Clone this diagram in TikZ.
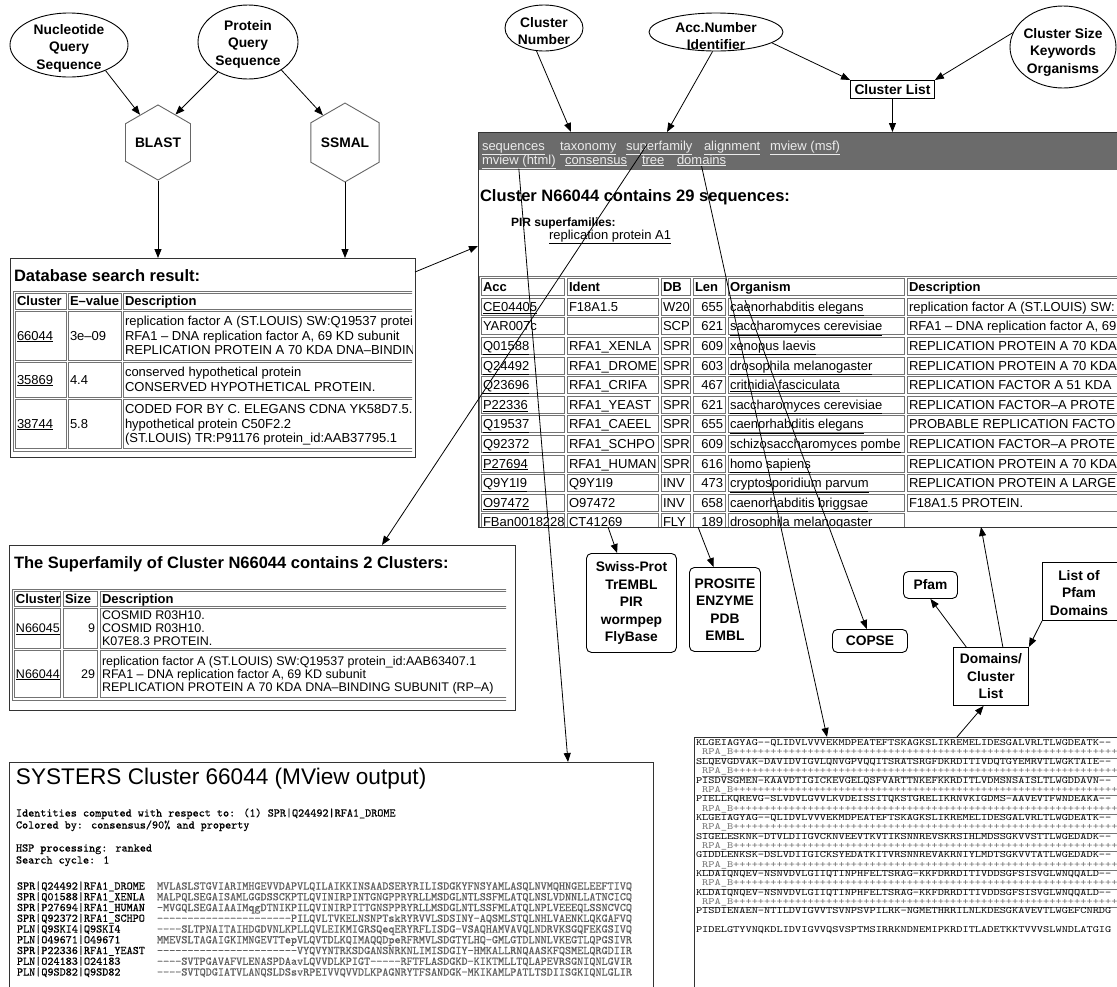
\documentclass[tikz,border=0pt]{standalone}
\usepackage{fontspec}
\setmainfont{Liberation Sans}
\newfontfamily\seqfont{lmmono10-regular.otf}[Ligatures=TeXOff,FakeBold=0.6]
\newfontfamily\alnfont{lmmono10-regular.otf}[Ligatures=TeXOff,FakeStretch=1.23]
\usetikzlibrary{shapes.geometric,arrows.meta,calc}

\newcounter{nd}
% text set on its baseline (left or right end), every node numbered
\newcommand{\txl}[3][]{\stepcounter{nd}\node[tx,anchor=base west,#1] (t\arabic{nd}) at (#2) {#3};}
\newcommand{\txr}[3][]{\stepcounter{nd}\node[tx,anchor=base east,#1] (t\arabic{nd}) at (#2) {#3};}
\newcommand{\lnk}[1]{\underline{#1}}
\newcommand{\cellr}[4]{\draw[cellline] (#1,#2) rectangle (#3,#4);}
\newcommand{\headfont}{\fontsize{16.5}{19}\selectfont\bfseries}
\newcommand{\thfont}{\fontsize{13}{14}\selectfont\bfseries}
\newcommand{\sffont}{\fontsize{12.5}{14}\selectfont}
\newcommand{\lblfont}{\fontsize{13.8}{17.5}\selectfont\bfseries}
\newcommand{\plusrun}{++++++++++++++++++++++++++++++++++++++++++++++++++++++++++++++}

% one row of the cluster member table, #1 = centre of the row
\newcommand{\crow}[7]{%
  \cellr{481}{#1-8.5}{564}{#1+8.5}%
  \cellr{567}{#1-8.5}{658}{#1+8.5}%
  \cellr{661}{#1-8.5}{690}{#1+8.5}%
  \cellr{693}{#1-8.5}{725}{#1+8.5}%
  \cellr{728}{#1-8.5}{904}{#1+8.5}%
  \cellr{907}{#1-8.5}{1140}{#1+8.5}%
  \txl{483,#1+4.6}{#2}%
  \txl{569,#1+4.6}{#3}%
  \txl{663,#1+4.6}{#4}%
  \txr{723,#1+4.6}{#5}%
  \txl{730,#1+4.6}{#6}%
  \txl{909,#1+4.6}{#7}%
}
% MView alignment line: name and sequence
\newcommand{\mvrow}[3]{\txl[seqtx]{17,#1}{#2}\txl[seqtx,text=black!62]{157,#1}{#3}}
% domain alignment lines
\newcommand{\alrow}[2]{\txl[alntx]{696,#1}{#2}}
\newcommand{\rparow}[1]{\txl[alntx,text=black!55]{696,#1}{\hphantom{R}\lnk{RPA\_B\plusrun}}}

\begin{document}
\begin{tikzpicture}[x=1pt,y=-1pt,
  tx/.style={inner sep=0pt,outer sep=0pt,font=\fontsize{13}{14}\selectfont},
  lbl/.style={inner sep=0pt,font=\lblfont,align=center},
  oval/.style={ellipse,draw,line width=0.9pt,inner sep=0pt},
  hexa/.style={regular polygon,regular polygon sides=6,shape border rotate=30,draw=black!60,line width=0.9pt,minimum size=71pt,inner sep=0pt,font=\lblfont},
  rbox/.style={draw,line width=0.9pt,rounded corners=5pt,inner sep=0pt,font=\lblfont,align=center},
  sbox/.style={draw,line width=0.9pt,inner sep=0pt,font=\lblfont,align=center},
  panel/.style={draw=black!80,line width=0.9pt,inner sep=0pt,outer sep=0pt},
  cellline/.style={draw=black!55,line width=0.6pt},
  conn/.style={-{Triangle[length=9pt,width=7pt]},line width=0.8pt},
  barlink/.style={tx,font=\fontsize{13}{14}\selectfont,text=black!8},
  seqtx/.style={tx,font=\seqfont\fontsize{11.6}{12}\selectfont},
  alntx/.style={tx,font=\alnfont\fontsize{9.6}{9.6}\selectfont},
]
\useasboundingbox (0,0) rectangle (1117,986);
\fill[white] (0,0) rectangle (1117,986);

% ---------------- query side ----------------
\node[oval,minimum width=118pt,minimum height=64pt] (nuc) at (69,45) {};
\node[lbl] (nucT) at (69,48) {Nucleotide\\Query\\Sequence};
\node[oval,minimum width=100pt,minimum height=74pt] (prot) at (248,42) {};
\node[lbl] (protT) at (248,44) {Protein\\Query\\Sequence};
\node[hexa] (blast) at (158,142.5) {BLAST};
\node[hexa] (ssmal) at (345,142.5) {SSMAL};

% ---------------- database search result ----------------
\node[panel,anchor=north west,minimum width=405pt,minimum height=199pt] (dbbox) at (10,258) {};
\txl[font=\headfont]{14,281}{Database search result:}
\begin{scope}
  \clip (11,259) rectangle (412,456);
  \draw[cellline] (13,291) rectangle (440,451);
  \cellr{15}{293}{66}{309}\cellr{68}{293}{121}{309}\cellr{123}{293}{440}{309}
  \txl[font=\thfont]{17,305.6}{Cluster}
  \txl[font=\thfont]{70,305.6}{E–value}
  \txl[font=\thfont]{125,305.6}{Description}
  \cellr{15}{311}{66}{360}\cellr{68}{311}{121}{360}\cellr{123}{311}{440}{360}
  \txl{17,340.1}{\lnk{66044}}
  \txl{70,340.1}{3e–09}
  \txl{125,325.6}{replication factor A (ST.LOUIS) SW:Q19537 protei}
  \txl{125,340.1}{RFA1 – DNA replication factor A, 69 KD subunit}
  \txl{125,354.6}{REPLICATION PROTEIN A 70 KDA DNA–BINDIN}
  \cellr{15}{362}{66}{397}\cellr{68}{362}{121}{397}\cellr{123}{362}{440}{397}
  \txl{17,384.1}{\lnk{35869}}
  \txl{70,384.1}{4.4}
  \txl{125,376.9}{conserved hypothetical protein}
  \txl{125,391.4}{CONSERVED HYPOTHETICAL PROTEIN.}
  \cellr{15}{399}{66}{448}\cellr{68}{399}{121}{448}\cellr{123}{399}{440}{448}
  \txl{17,428.1}{\lnk{38744}}
  \txl{70,428.1}{5.8}
  \txl{125,413.6}{CODED FOR BY C. ELEGANS CDNA YK58D7.5.}
  \txl{125,428.1}{hypothetical protein C50F2.2}
  \txl{125,442.6}{(ST.LOUIS) TR:P91176 protein\_id:AAB37795.1}
\end{scope}

% ---------------- superfamily page ----------------
\node[panel,anchor=north west,minimum width=506pt,minimum height=165pt] (sfbox) at (9,545) {};
\txl[font=\headfont]{14,568}{The Superfamily of Cluster N66044 contains 2 Clusters:}
\begin{scope}
  \clip (10,546) rectangle (506,709);
  \draw[cellline] (12,589) rectangle (530,700);
  \cellr{14}{591}{60}{606}\cellr{63}{591}{97}{606}\cellr{100}{591}{530}{606}
  \txl[font=\thfont]{16,603}{Cluster}
  \txl[font=\thfont]{65,603}{Size}
  \txl[font=\thfont]{102,603}{Description}
  \cellr{14}{608}{60}{648}\cellr{63}{608}{97}{648}\cellr{100}{608}{530}{648}
  \txl[font=\sffont]{16,632.6}{\lnk{N66045}}
  \txr[font=\sffont]{95,632.6}{9}
  \txl[font=\sffont]{102,619.6}{COSMID R03H10.}
  \txl[font=\sffont]{102,632.6}{COSMID R03H10.}
  \txl[font=\sffont]{102,645.6}{K07E8.3 PROTEIN.}
  \cellr{14}{650}{60}{697}\cellr{63}{650}{97}{697}\cellr{100}{650}{530}{697}
  \txl[font=\sffont]{16,678}{\lnk{N66044}}
  \txr[font=\sffont]{95,678}{29}
  \txl[font=\sffont]{102,665}{replication factor A (ST.LOUIS) SW:Q19537 protein\_id:AAB63407.1}
  \txl[font=\sffont]{102,678}{RFA1 – DNA replication factor A, 69 KD subunit}
  \txl[font=\sffont]{102,691}{REPLICATION PROTEIN A 70 KDA DNA–BINDING SUBUNIT (RP–A)}
\end{scope}

% ---------------- cluster page ----------------
\node[panel,anchor=north west,minimum width=660pt,minimum height=395pt] (page) at (478,132) {};
\fill[black!58] (478.5,132.5) rectangle (1140,170);
\node[barlink,anchor=base west] (seqlink) at (482,150) {\lnk{sequences}};
\node[barlink,anchor=base west] (taxlink) at (560,150) {\lnk{taxonomy}};
\node[barlink,anchor=base west] (suplink) at (626,150) {\lnk{superfamily}};
\node[barlink,anchor=base west] (alilink) at (704,150) {\lnk{alignment}};
\node[barlink,anchor=base west] (msflink) at (770,150) {\lnk{mview (msf)}};
\node[barlink,anchor=base west] (htmllink) at (482,164) {\lnk{mview (html)}};
\node[barlink,anchor=base west] (conslink) at (565,164) {\lnk{consensus}};
\node[barlink,anchor=base west] (treelink) at (642,164) {\lnk{tree}};
\node[barlink,anchor=base west] (domlink) at (677,164) {\lnk{domains}};
\txl[font=\headfont]{480,201}{Cluster N66044 contains 29 sequences:}
\txl[font=\fontsize{12}{13}\selectfont\bfseries]{511,226}{PIR superfamilies:}
\txl{549,239.5}{\lnk{replication protein A1}}
\begin{scope}
  \clip (478.5,132.5) rectangle (1117,526.5);
  \draw[cellline] (479,276.5) rectangle (1140,560);
  \cellr{481}{278.5}{564}{295.5}\cellr{567}{278.5}{658}{295.5}\cellr{661}{278.5}{690}{295.5}
  \cellr{693}{278.5}{725}{295.5}\cellr{728}{278.5}{904}{295.5}\cellr{907}{278.5}{1140}{295.5}
  \txl[font=\thfont]{483,291.6}{Acc}
  \txl[font=\thfont]{569,291.6}{Ident}
  \txl[font=\thfont]{663,291.6}{DB}
  \txl[font=\thfont]{695,291.6}{Len}
  \txl[font=\thfont]{730,291.6}{Organism}
  \txl[font=\thfont]{909,291.6}{Description}
  \crow{306.6}{\lnk{CE04405}}{F18A1.5}{W20}{655}{\lnk{caenorhabditis elegans}}{replication factor A (ST.LOUIS) SW:}
  \crow{326.2}{YAR007c}{}{SCP}{621}{\lnk{saccharomyces cerevisiae}}{RFA1 – DNA replication factor A, 69}
  \crow{345.8}{\lnk{Q01588}}{RFA1\_XENLA}{SPR}{609}{\lnk{xenopus laevis}}{REPLICATION PROTEIN A 70 KDA}
  \crow{365.4}{\lnk{Q24492}}{RFA1\_DROME}{SPR}{603}{\lnk{drosophila melanogaster}}{REPLICATION PROTEIN A 70 KDA}
  \crow{385}{\lnk{Q23696}}{RFA1\_CRIFA}{SPR}{467}{\lnk{crithidia fasciculata}}{REPLICATION FACTOR A 51 KDA}
  \crow{404.6}{\lnk{P22336}}{RFA1\_YEAST}{SPR}{621}{\lnk{saccharomyces cerevisiae}}{REPLICATION FACTOR–A PROTE}
  \crow{424.2}{\lnk{Q19537}}{RFA1\_CAEEL}{SPR}{655}{\lnk{caenorhabditis elegans}}{PROBABLE REPLICATION FACTO}
  \crow{443.8}{\lnk{Q92372}}{RFA1\_SCHPO}{SPR}{609}{\lnk{schizosaccharomyces pombe}}{REPLICATION FACTOR–A PROTE}
  \crow{463.4}{\lnk{P27694}}{RFA1\_HUMAN}{SPR}{616}{\lnk{homo sapiens}}{REPLICATION PROTEIN A 70 KDA}
  \crow{483}{\lnk{Q9Y1I9}}{Q9Y1I9}{INV}{473}{\lnk{cryptosporidium parvum}}{REPLICATION PROTEIN A LARGE}
  \crow{502.6}{\lnk{O97472}}{O97472}{INV}{658}{\lnk{caenorhabditis briggsae}}{F18A1.5 PROTEIN.}
  \cellr{481}{513.7}{564}{530.7}\cellr{567}{513.7}{658}{530.7}\cellr{661}{513.7}{690}{530.7}
  \cellr{693}{513.7}{725}{530.7}\cellr{728}{513.7}{904}{530.7}
  \txl{483,526.8}{\lnk{FBan0018228}}
  \txl{569,526.8}{CT41269}
  \txl{663,526.8}{FLY}
  \txr{723,526.8}{189}
  \txl{730,526.8}{\lnk{drosophila melanogaster}}
\end{scope}

% ---------------- MView output ----------------
\node[panel,anchor=north west,minimum width=644pt,minimum height=240pt] (mvbox) at (9,762) {};
\begin{scope}
  \clip (10,763) rectangle (652,986);
  \txl[font=\fontsize{22.6}{26}\selectfont]{16,784}{SYSTERS Cluster 66044 (MView output)}
  \txl[seqtx]{16,816.5}{Identities computed with respect to: (1) SPR|Q24492|RFA1\_DROME}
  \txl[seqtx]{16,828.5}{Colored by: consensus/90\% and property}
  \txl[seqtx]{16,851.5}{HSP processing: ranked}
  \txl[seqtx]{16,863.5}{Search cycle: 1}
  \mvrow{889.5}{SPR|Q24492|RFA1\_DROME}{MVLASLSTGVIARIMHGEVVDAPVLQILAIKKINSAADSERYRILISDGKYFNSYAMLASQLNVMQHNGELEEFTIVQ}
  \mvrow{900.25}{SPR|Q01588|RFA1\_XENLA}{MALPQLSEGAISAMLGGDSSCKPTLQVINIRPINTGNGPPRYRLLMSDGLNTLSSFMLATQLNSLVDNNLLATNCICQ}
  \mvrow{911}{SPR|P27694|RFA1\_HUMAN}{-MVGQLSEGAIAAIMqgDTNIKPILQVINIRPITTGNSPPRYRLLMSDGLNTLSSFMLATQLNPLVEEEQLSSNCVCQ}
  \mvrow{921.75}{SPR|Q92372|RFA1\_SCHPO}{----------------------PILQVLTVKELNSNPTskRYRVVLSDSINY-AQSMLSTQLNHLVAENKLQKGAFVQ}
  \mvrow{932.5}{PLN|Q9SKI4|Q9SKI4}{----SLTPNAITAIHDGDVNLKPLLQVLEIKMIGRSQeqERYRFLISDG-VSAQHAMVAVQLNDRVKSGQFEKGSIVQ}
  \mvrow{943.25}{PLN|O49671|O49671}{MMEVSLTAGAIGKIMNGEVTTepVLQVTDLKQIMAQQDpeRFRMVLSDGTYLHQ-GMLGTDLNNLVKEGTLQPGSIVR}
  \mvrow{954}{SPR|P22336|RFA1\_YEAST}{-----------------------VYQVYNTRKSDGANSNRKNLIMISDGIY-HMKALLRNQAASKFQSMELQRGDIIR}
  \mvrow{964.75}{PLN|O24183|O24183}{----SVTPGAVAFVLENASPDAavLQVVDLKPIGT-----RFTFLASDGKD-KIKTMLLTQLAPEVRSGNIQNLGVIR}
  \mvrow{975.5}{PLN|Q9SD82|Q9SD82}{----SVTQDGIATVLANQSLDSsvRPEIVVQVVDLKPAGNRYTFSANDGK-MKIKAMLPATLTSDIISGKIQNLGLIR}
\end{scope}

% ---------------- domain alignment ----------------
\node[panel,anchor=north west,minimum width=440pt,minimum height=260pt] (albox) at (694,737) {};
\begin{scope}
  \clip (695,738) rectangle (1117,986);
  \alrow{745.6}{KLGEIAGYAG--QLIDVLVVVEKMDPEATEFTSKAGKSLIKREMELIDESGALVRLTLWGDEATK--}
  \rparow{754.95}
  \alrow{764.3}{SLQEVGDVAK-DAVIDVIGVLQNVGPVQQITSRATSRGFDKRDITIVDQTGYEMRVTLWGKTAIE--}
  \rparow{773.65}
  \alrow{783}{PISDVSGMEN-KAAVDTIGICKEVGELQSFVARTTNKEFKKRDITLVDMSNSAISLTLWGDDAVN--}
  \rparow{792.35}
  \alrow{801.7}{PIELLKQREVG-SLVDVLGVVLKVDEISSITQKSTGRELIKRNVKIGDMS-AAVEVTFWNDEAKA--}
  \rparow{811.05}
  \alrow{820.4}{KLGEIAGYAG--QLIDVLVVVEKMDPEATEFTSKAGKSLIKREMELIDESGALVRLTLWGDEATK--}
  \rparow{829.75}
  \alrow{839.1}{SIGELESKNK-DTVLDIIGVCKNVEEVTKVTIKSNNREVSKRSIHLMDSSGKVVSTTLWGEDADK--}
  \rparow{848.45}
  \alrow{857.8}{GIDDLENKSK-DSLVDIIGICKSYEDATKITVRSNNREVAKRNIYLMDTSGKVVTATLWGEDADK--}
  \rparow{867.15}
  \alrow{876.5}{KLDAIQNQEV-NSNVDVLGIIQTINPHFELTSRAG-KKFDRRDITIVDDSGFSISVGLWNQQALD--}
  \rparow{885.85}
  \alrow{895.2}{KLDAIQNQEV-NSNVDVLGIIQTINPHFELTSRAG-KKFDRRDITIVDDSGFSISVGLWNQQALD--}
  \rparow{904.55}
  \alrow{913.9}{PISDIENAEN-NTILDVIGVVTSVNPSVPILRK-NGMETHRRILNLKDESGKAVEVTLWGEFCNRDG}
  \alrow{932.6}{PIDELGTYVNQKDLIDVIGVVQSVSPTMSIRRKNDNEMIPKRDITLADETKKTVVVSLWNDLATGIG}
\end{scope}

% ---------------- search keys and linked resources ----------------
\node[oval,minimum width=78pt,minimum height=46pt] (cnum) at (544,28) {};
\node[lbl] (cnumT) at (544,31) {Cluster\\Number};
\node[oval,minimum width=134pt,minimum height=38pt] (acc) at (716,32) {};
\node[lbl] (accT) at (716,36) {Acc.Number\\Identifier};
\node[oval,minimum width=106pt,minimum height=82pt] (csize) at (1063,47) {};
\node[lbl] (csizeT) at (1063,52) {Cluster Size\\Keywords\\Organisms};
\node[sbox,anchor=north west,minimum width=84pt,minimum height=18pt] (clist) at (850,80) {Cluster List};

\node[rbox,anchor=north west,minimum width=90pt,minimum height=99pt] (swiss) at (586,553) {Swiss-Prot\\TrEMBL\\PIR\\wormpep\\FlyBase};
\node[rbox,anchor=north west,minimum width=71pt,minimum height=84pt] (prosite) at (689,567) {PROSITE\\ENZYME\\PDB\\EMBL};
\node[rbox,anchor=north west,minimum width=75pt,minimum height=23pt] (copse) at (832,629) {COPSE};
\node[rbox,anchor=north west,minimum width=54pt,minimum height=27pt] (pfam) at (903,571) {Pfam};
\node[sbox,anchor=north west,minimum width=90pt,minimum height=58pt] (lpf) at (1042,562) {};
\node[lbl] (lpfT) at (1079,593) {List of\\Pfam\\Domains};
\node[sbox,anchor=north west,minimum width=75pt,minimum height=58pt] (dcl) at (953,647) {Domains/\\Cluster\\List};

% ---------------- connectors ----------------
\draw[conn] (nuc.-35) -- (blast.123);
\draw[conn] (prot.-135) -- (blast.58);
\draw[conn] (prot.-40) -- (ssmal.129);
\draw[conn] (blast.south) -- (blast.south |- dbbox.north);
\draw[conn] (ssmal.south) -- (ssmal.south |- dbbox.north);
\draw[conn] ($(dbbox.north east)+(0,14)$) -- ($(page.north west)+(0,114)$);
\draw[conn] (acc.-11) -- (clist.north west);
\draw[conn] (csize.164) -- (clist.north east);
\draw[conn] (clist.south) -- (clist.south |- page.north);
\draw[conn] (cnum.-108) -- ($(page.north west)+(93,0)$);
\draw[conn] (acc.-100) -- ($(page.north west)+(189,0)$);
\draw[conn] (htmllink.south) -- ($(mvbox.north west)+(559,0)$);
\draw[conn] ($(suplink.west)+(21,-3)$) -- ($(sfbox.north west)+(373,0)$);
\draw[conn] (domlink.south) -- ($(albox.north west)+(133,0)$);
\draw[conn] ($(page.north west)+(267,168)$) -- (copse.105);
\draw[conn] ($(page.south west)+(130,0)$) -- (swiss.106);
\draw[conn] ($(page.south west)+(220,0)$) -- (prosite.105);
\draw[conn] (dcl.68) -- ($(page.south west)+(503,0)$);
\draw[conn] (dcl.130) -- (pfam.south);
\draw[conn] (lpf.south west) -- (dcl.north east);
\draw[conn] ($(albox.north west)+(263,0)$) -- (dcl.-104);
\end{tikzpicture}
\end{document}
